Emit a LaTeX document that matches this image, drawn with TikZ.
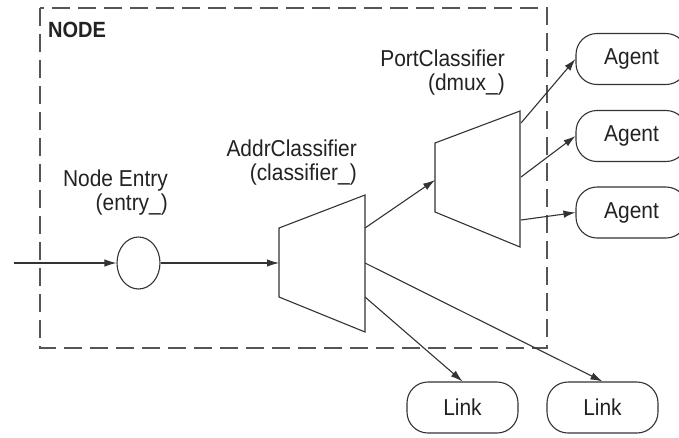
\documentclass[tikz,border=0pt]{standalone}
\usepackage{fontspec}
\setmainfont[FakeStretch=0.91]{Liberation Sans}
\usetikzlibrary{arrows.meta,shapes.geometric}
\definecolor{ln}{HTML}{333333}
\definecolor{tx}{HTML}{222222}
\definecolor{boxgray}{HTML}{555555}
\begin{document}
\begin{tikzpicture}[x=1pt,y=-1pt,
  every node/.style={text=tx,font=\fontsize{23}{23.5}\selectfont},
  conn/.style={draw=ln,line width=1.1pt,-{Latex[length=12pt,width=7.5pt]}},
  shp/.style={draw=ln,line width=1.1pt},
  pill/.style={draw=ln,line width=1.1pt,rectangle,rounded corners=21pt,minimum width=111pt,minimum height=51pt,inner sep=0pt},
  lbl/.style={align=right,anchor=north east,inner sep=0pt}
]
\clip (0,0) rectangle (679,437);
\fill[white] (0,0) rectangle (679,437);

% NODE boundary
\draw[draw=boxgray,line width=1.4pt,dash pattern=on 18pt off 8pt] (40,8) rectangle (547,348);
\node[anchor=base west,inner sep=0pt,font=\fontsize{22}{22}\selectfont\bfseries] (nodelbl) at (48,37) {NODE};

% entry
\coordinate (src) at (14,263);
\node[ellipse,shp,minimum width=43pt,minimum height=52pt,inner sep=0pt] (entry) at (138.5,263) {};
\node[lbl] (entrylbl) at (168,170) {Node Entry\\(entry\_)};

% address classifier
\draw[shp] (279,228) -- (365,195) -- (365,332) -- (279,297) -- cycle;
\coordinate (acin) at (279,263);
\coordinate (acout1) at (365,228);
\coordinate (acout2) at (365,263);
\coordinate (acout3) at (365,297);
\node[lbl] (aclbl) at (357,140) {AddrClassifier\\(classifier\_)};

% port classifier
\draw[shp] (435,143) -- (520,111) -- (520,247) -- (435,212) -- cycle;
\coordinate (pcin) at (435,180);
\coordinate (pcout1) at (521,123);
\coordinate (pcout2) at (521,177);
\coordinate (pcout3) at (521,220);
\node[lbl] (pclbl) at (505,50) {PortClassifier\\(dmux\_)};

% agents and links
\node[pill] (ag1) at (631.5,59) {Agent};
\node[pill] (ag2) at (631.5,136) {Agent};
\node[pill] (ag3) at (631.5,212.5) {Agent};
\node[pill] (lk1) at (462.5,407.5) {Link};
\node[pill] (lk2) at (602.5,407.5) {Link};

% connectors
\draw[conn] (src) -- (entry.west);
\draw[conn] (entry.east) -- (acin);
\draw[conn] (acout1) -- (pcin);
\draw[conn] (pcout1) -- (ag1.west);
\draw[conn] (pcout2) -- (ag2.west);
\draw[conn] (pcout3) -- (ag3.west);
\draw[conn] (acout3) -- (lk1.north);
\draw[conn] (acout2) -- (lk2.north);
\end{tikzpicture}
\end{document}
